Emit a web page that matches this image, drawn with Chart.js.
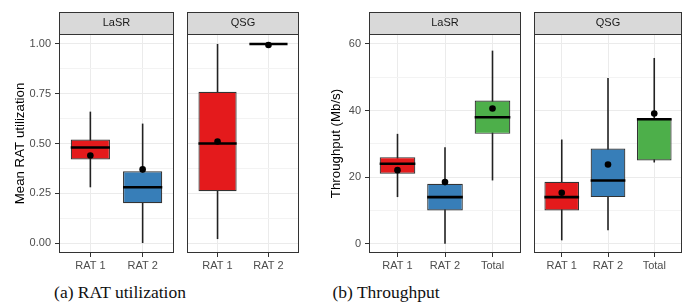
<!DOCTYPE html>
<html>
<head>
<meta charset="utf-8">
<script src="https://cdn.jsdelivr.net/npm/chart.js@4"></script>
<style>
  body { margin: 0; background: #fff; }
  #wrap { position: relative; width: 689px; height: 308px; overflow: hidden; }
  .panel { position: absolute; top: 0; height: 280px; }
  .caption { position: absolute; top: 282px; font-family: 'Liberation Serif', serif; font-size: 17.5px; color: #111; white-space: nowrap; transform: translateX(-50%); }
</style>
</head>
<body>
<div id="wrap">
  <div class="panel" style="left:0;width:178px"><canvas id="utilLaSR"></canvas></div>
  <div class="panel" style="left:183px;width:120px"><canvas id="utilQSG"></canvas></div>
  <div class="panel" style="left:312px;width:213px"><canvas id="tputLaSR"></canvas></div>
  <div class="panel" style="left:530px;width:156px"><canvas id="tputQSG"></canvas></div>
  <div class="caption" style="left:120px">(a) RAT utilization</div>
  <div class="caption" style="left:386px">(b) Throughput</div>
</div>
<script>
// Data
const schemes = ['LaSR', 'QSG'];
const utilCats = ['RAT 1', 'RAT 2'];
const tputCats = ['RAT 1', 'RAT 2', 'Total'];
const utilTicks = [0, 0.25, 0.5, 0.75, 1];
const tputTicks = [0, 20, 40, 60];

// [lower whisker, Q1, median, Q3, upper whisker]
const utilLaSR = [[0.28, 0.42, 0.48, 0.52, 0.66], [0.00, 0.20, 0.28, 0.36, 0.60]];
const utilQSG = [[0.02, 0.26, 0.50, 0.76, 1.00], [1.00, 1.00, 1.00, 1.00, 1.00]];
const utilLaSRMean = [0.44, 0.37];
const utilQSGMean = [0.51, 0.995];

const tputLaSR = [[14, 21, 24, 26, 33], [0, 10, 14, 18, 29], [19, 33, 38, 43, 58]];
const tputQSG = [[1, 10, 14, 18.6, 31.3], [4, 14, 19, 28.6, 49.8], [24.4, 25, 37.4, 37.6, 55.8]];
const tputLaSRMean = [22.1, 18.5, 40.6];
const tputQSGMean = [15.3, 23.8, 39.1];

const ratColors = ['#E41A1C', '#377EB8', '#4DAF4A'];

Chart.defaults.font.family = "'Liberation Sans', Arial, sans-serif";
Chart.defaults.color = '#4D4D4D';

// strip, whiskers, medians and panel border (ggplot look)
const boxParts = {
    id: 'boxParts',
    beforeDraw(chart) {
        const t = chart.titleBlock, a = chart.chartArea, ctx = chart.ctx;
        ctx.save();
        ctx.fillStyle = '#D9D9D9';
        ctx.fillRect(a.left, t.top, a.right - a.left, a.top - t.top);
        ctx.strokeStyle = '#333';
        ctx.lineWidth = 1;
        ctx.strokeRect(a.left + 0.5, t.top + 0.5, a.right - a.left - 1, a.top - t.top);
        ctx.restore();
    },
    beforeDatasetsDraw(chart) {
        const ctx = chart.ctx, x = chart.scales.x, y = chart.scales.y;
        const stats = chart.data.datasets[1].stats;
        ctx.save();
        ctx.strokeStyle = '#222';
        ctx.lineWidth = 1.6;
        stats.forEach((s, i) => {
            const px = x.getPixelForValue(i + 1);
            ctx.beginPath();
            ctx.moveTo(px, y.getPixelForValue(s[0]));
            ctx.lineTo(px, y.getPixelForValue(s[4]));
            ctx.stroke();
        });
        ctx.restore();
    },
    afterDatasetDraw(chart, args) {
        if (args.meta.type !== 'bar') return;
        const ctx = chart.ctx, y = chart.scales.y;
        const stats = chart.data.datasets[args.index].stats;
        ctx.save();
        ctx.strokeStyle = '#000';
        ctx.lineWidth = 2.6;
        args.meta.data.forEach((el, i) => {
            const py = y.getPixelForValue(stats[i][2]);
            ctx.beginPath();
            ctx.moveTo(el.x - el.width / 2, py);
            ctx.lineTo(el.x + el.width / 2, py);
            ctx.stroke();
        });
        ctx.restore();
    },
    afterDraw(chart) {
        const a = chart.chartArea, ctx = chart.ctx;
        ctx.save();
        ctx.strokeStyle = '#333';
        ctx.lineWidth = 1;
        ctx.strokeRect(a.left + 0.5, a.top + 0.5, a.right - a.left - 1, a.bottom - a.top - 1);
        ctx.restore();
    }
};

function drawPanel(id, strip, cats, stats, means, opt) {
    const allTicks = [];
    opt.ticks.forEach((v, i) => {
        allTicks.push(v);
        if (i < opt.ticks.length - 1) allTicks.push((v + opt.ticks[i + 1]) / 2);
    });
    const isMajor = v => opt.ticks.includes(v);

    new Chart(document.getElementById(id), {
        type: 'bar',
        data: {
            datasets: [{
                type: 'line',
                order: 1,
                data: means.map((m, i) => ({ x: i + 1, y: m })),
                showLine: false,
                pointRadius: 3.3,
                pointBackgroundColor: '#000',
                pointBorderWidth: 0
            }, {
                type: 'bar',
                order: 2,
                stats: stats,
                data: stats.map((s, i) => ({ x: i + 1, y: [s[1], s[3]] })),
                backgroundColor: ratColors.slice(0, cats.length),
                borderColor: '#333',
                borderWidth: 1.2,
                borderSkipped: false,
                categoryPercentage: 0.75,
                barPercentage: 1
            }]
        },
        options: {
            responsive: true,
            maintainAspectRatio: false,
            animation: false,
            layout: { padding: { top: 12, right: 1, bottom: 0, left: opt.yTitle ? 0 : 1 } },
            plugins: {
                legend: { display: false },
                tooltip: { enabled: false },
                title: {
                    display: true,
                    text: strip,
                    fullSize: false,
                    color: '#1A1A1A',
                    font: { size: 11, weight: 'normal' },
                    padding: { top: 4.4, bottom: 4.4 }
                }
            },
            scales: {
                x: {
                    type: 'linear',
                    offset: false,
                    min: 0.4,
                    max: cats.length + 0.6,
                    afterBuildTicks: s => { s.ticks = cats.map((c, i) => ({ value: i + 1 })); },
                    afterFit: s => { s.height = 27; },
                    ticks: {
                        callback: v => cats[v - 1],
                        autoSkip: false,
                        maxRotation: 0,
                        padding: 2,
                        font: { size: 11 },
                        color: '#4D4D4D'
                    },
                    grid: { offset: false, color: '#EBEBEB', tickColor: '#333', tickLength: 4 },
                    border: { display: false }
                },
                y: {
                    min: opt.min,
                    max: opt.max,
                    afterBuildTicks: s => { s.ticks = allTicks.map(v => ({ value: v })); },
                    afterFit: s => { s.width = opt.yWidth; },
                    ticks: {
                        display: !!opt.yTitle,
                        callback: v => isMajor(v) ? opt.fmt(v) : '',
                        autoSkip: false,
                        padding: 4,
                        font: { size: 11 },
                        color: '#4D4D4D'
                    },
                    grid: {
                        color: c => isMajor(c.tick.value) ? '#EBEBEB' : '#F3F3F3',
                        tickColor: c => isMajor(c.tick.value) ? '#333' : 'rgba(0,0,0,0)',
                        tickLength: 4,
                        drawTicks: !!opt.yTitle
                    },
                    border: { display: false },
                    title: {
                        display: !!opt.yTitle,
                        text: opt.yTitle || '',
                        color: '#000',
                        font: { size: 13.3 },
                        padding: { top: opt.titlePad || 0, bottom: 0 }
                    }
                }
            }
        },
        plugins: [boxParts]
    });
}

const utilFmt = v => v.toFixed(2);
const tputFmt = v => String(v);

drawPanel('utilLaSR', schemes[0], utilCats, utilLaSR, utilLaSRMean,
    { min: -0.05, max: 1.05, ticks: utilTicks, fmt: utilFmt, yWidth: 59, yTitle: 'Mean RAT utilization', titlePad: 12 });
drawPanel('utilQSG', schemes[1], utilCats, utilQSG, utilQSGMean,
    { min: -0.05, max: 1.05, ticks: utilTicks, fmt: utilFmt, yWidth: 0 });
drawPanel('tputLaSR', schemes[0], tputCats, tputLaSR, tputLaSRMean,
    { min: -2.8, max: 63, ticks: tputTicks, fmt: tputFmt, yWidth: 57, yTitle: 'Throughput (Mb/s)', titlePad: 16 });
drawPanel('tputQSG', schemes[1], tputCats, tputQSG, tputQSGMean,
    { min: -2.8, max: 63, ticks: tputTicks, fmt: tputFmt, yWidth: 0 });
</script>
</body>
</html>
